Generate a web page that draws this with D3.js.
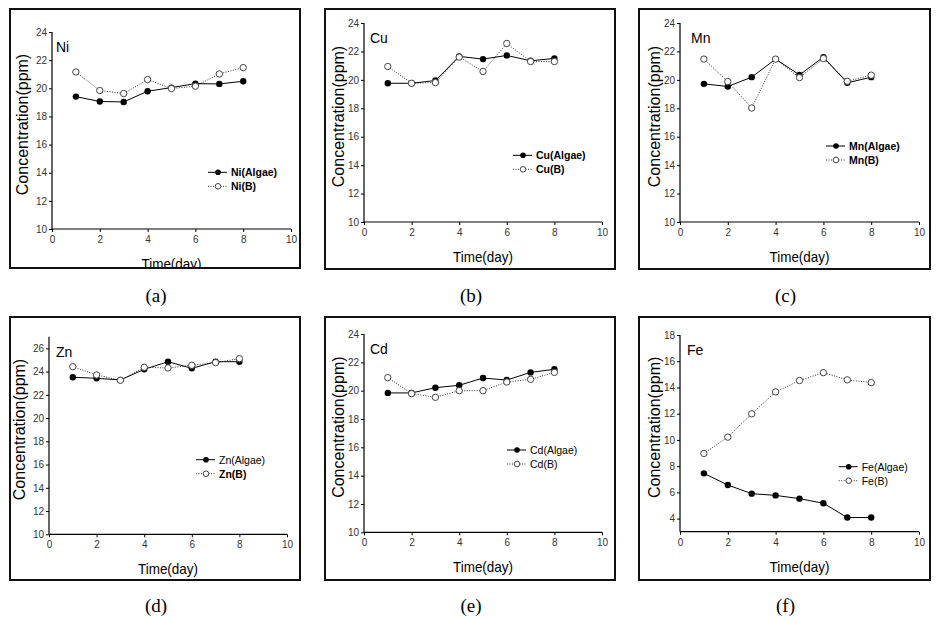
<!DOCTYPE html>
<html>
<head>
<meta charset="utf-8">
<script src="https://cdn.jsdelivr.net/npm/d3@7"></script>
<style>
  body { margin: 0; background: #fff; }
  svg { display: block; }
</style>
</head>
<body>
<svg id="chart" width="948" height="620"></svg>
<script>
// ---------- DATA ----------
const days = [1, 2, 3, 4, 5, 6, 7, 8];
const xTickValues = [0, 2, 4, 6, 8, 10];
const ticks10to24 = [10, 12, 14, 16, 18, 20, 22, 24];
const ticksZn = [10, 12, 14, 16, 18, 20, 22, 24, 26];
const ticksFe = [4, 6, 8, 10, 12, 14, 16, 18];

const elements = ["Ni", "Cu", "Mn", "Zn", "Cd", "Fe"];
const captions = ["(a)", "(b)", "(c)", "(d)", "(e)", "(f)"];

const niAlgae = [19.41, 19.06, 19.03, 19.79, 20.05, 20.33, 20.31, 20.50];
const niB     = [21.16, 19.84, 19.63, 20.62, 19.98, 20.15, 21.02, 21.47];
const cuAlgae = [19.76, 19.76, 19.95, 21.65, 21.46, 21.72, 21.34, 21.51];
const cuB     = [20.94, 19.76, 19.81, 21.60, 20.59, 22.56, 21.29, 21.29];
const mnAlgae = [19.72, 19.53, 20.19, 21.46, 20.35, 21.60, 19.79, 20.19];
const mnB     = [21.46, 19.88, 18.02, 21.46, 20.16, 21.50, 19.90, 20.33];
const znAlgae = [23.51, 23.42, 23.28, 24.19, 24.85, 24.28, 24.85, 24.85];
const znB     = [24.42, 23.71, 23.25, 24.37, 24.31, 24.54, 24.77, 25.11];
const cdAlgae = [19.84, 19.84, 20.21, 20.38, 20.89, 20.75, 21.29, 21.51];
const cdB     = [20.92, 19.79, 19.53, 20.00, 20.00, 20.61, 20.80, 21.29];
const feAlgae = [7.45, 6.56, 5.90, 5.77, 5.52, 5.17, 4.08, 4.08];
const feB     = [8.97, 10.21, 11.99, 13.66, 14.53, 15.13, 14.58, 14.37];

const algaeSeries = [niAlgae, cuAlgae, mnAlgae, znAlgae, cdAlgae, feAlgae];
const bSeries = [niB, cuB, mnB, znB, cdB, feB];
const yDomains = [[10, 24], [10, 24], [10, 24], [10, 27], [10, 24], [3, 18]];
const yTickSets = [ticks10to24, ticks10to24, ticks10to24, ticksZn, ticks10to24, ticksFe];

// ---------- LAYOUT ----------
const layout = [
  { box: [10, 9, 300, 268],  px: [52, 291],  py: [229, 32],    lab: 4,  leg: [208, 172.3], legBold: [true, true],  capY: 302 },
  { box: [325, 9, 615, 269], px: [364, 602], py: [222, 23],    lab: 6,  leg: [513, 155.3], legBold: [true, true],  capY: 302 },
  { box: [639, 9, 930, 269], px: [680, 919], py: [222, 23],    lab: 11, leg: [826, 146],   legBold: [true, true],  capY: 302 },
  { box: [10, 317, 300, 580],  px: [49, 287],  py: [534.3, 336.7], lab: 7, leg: [196, 459.7], legBold: [false, true], capY: 612 },
  { box: [325, 317, 615, 580], px: [364, 602], py: [532.3, 334], lab: 6, leg: [507, 450],   legBold: [false, false], capY: 612 },
  { box: [639, 317, 930, 580], px: [680, 919], py: [531.7, 335], lab: 7, leg: [838.7, 466.7], legBold: [false, false], capY: 612 }
];

const svg = d3.select("#chart");
const defs = svg.append("defs");

layout.forEach((L, i) => {
  const [bx0, by0, bx1, by1] = L.box;
  const clipId = "clip" + i;
  defs.append("clipPath").attr("id", clipId)
    .append("rect").attr("x", bx0).attr("y", by0).attr("width", bx1 - bx0).attr("height", by1 - by0);

  const g = svg.append("g").attr("clip-path", `url(#${clipId})`);

  const x = d3.scaleLinear().domain([0, 10]).range(L.px);
  const y = d3.scaleLinear().domain(yDomains[i]).range(L.py);

  // axes
  const xAxis = d3.axisBottom(x).tickValues(xTickValues).tickSize(3).tickPadding(4).tickFormat(d3.format("d"));
  const yAxis = d3.axisLeft(y).tickValues(yTickSets[i]).tickSize(3).tickPadding(2).tickFormat(d3.format("d"));

  const gx = g.append("g").attr("transform", `translate(0,${L.py[0]})`).call(xAxis);
  const gy = g.append("g").attr("transform", `translate(${L.px[0]},0)`).call(yAxis);
  // extend y domain line to top of scale
  [gx, gy].forEach(a => {
    a.selectAll("path.domain").attr("stroke", "#000").attr("stroke-width", 1.2);
    a.selectAll(".tick line").attr("stroke", "#000");
    a.selectAll("text").attr("fill", "#333").attr("font-family", "Liberation Sans, Arial, sans-serif").attr("font-size", 10);
  });
  gy.select("path.domain").attr("d", `M0,${L.py[0]}V${L.py[1]}`);
  gx.select("path.domain").attr("d", `M${L.px[0]},0H${L.px[1]}`);

  // element label
  g.append("text")
    .attr("x", L.px[0] + L.lab).attr("y", L.py[1] + 20)
    .attr("font-family", "Liberation Sans, Arial, sans-serif").attr("font-size", 14)
    .attr("fill", "#000").text(elements[i]);

  // axis titles
  const midY = (L.py[0] + L.py[1]) / 2 - 6;
  const yLabX = (i % 3 === 0) ? L.px[0] - 24 : L.px[0] - 20.5;
  g.append("text")
    .attr("transform", `translate(${yLabX},${midY}) rotate(-90)`)
    .attr("text-anchor", "middle")
    .attr("font-family", "Liberation Sans, Arial, sans-serif").attr("font-size", 16)
    .attr("fill", "#000").text("Concentration(ppm)");

  g.append("text")
    .attr("x", (L.px[0] + L.px[1]) / 2).attr("y", L.py[0] + 40)
    .attr("text-anchor", "middle")
    .attr("textLength", 60).attr("lengthAdjust", "spacingAndGlyphs")
    .attr("font-family", "Liberation Sans, Arial, sans-serif").attr("font-size", 15)
    .attr("fill", "#000").text("Time(day)");

  // lines
  const line = d3.line().x((d, k) => x(days[k])).y(d => y(d));
  g.append("path").datum(bSeries[i]).attr("d", line)
    .attr("fill", "none").attr("stroke", "#333").attr("stroke-width", 1).attr("stroke-dasharray", "1,1.5");
  g.append("path").datum(algaeSeries[i]).attr("d", line)
    .attr("fill", "none").attr("stroke", "#000").attr("stroke-width", 1);

  // markers
  g.selectAll(null).data(algaeSeries[i]).enter().append("circle")
    .attr("cx", (d, k) => x(days[k])).attr("cy", d => y(d)).attr("r", 3.2)
    .attr("fill", "#000");
  g.selectAll(null).data(bSeries[i]).enter().append("circle")
    .attr("cx", (d, k) => x(days[k])).attr("cy", d => y(d)).attr("r", 3.2)
    .attr("fill", "#fff").attr("stroke", "#444").attr("stroke-width", 1);

  // legend
  const [lx, ly] = L.leg;
  const names = [elements[i] + "(Algae)", elements[i] + "(B)"];
  names.forEach((nm, r) => {
    const yy = ly + r * 14;
    g.append("line").attr("x1", lx).attr("x2", lx + 19).attr("y1", yy).attr("y2", yy)
      .attr("stroke", r === 0 ? "#000" : "#333").attr("stroke-width", 1)
      .attr("stroke-dasharray", r === 0 ? null : "1,1.5");
    g.append("circle").attr("cx", lx + 10).attr("cy", yy).attr("r", 2.8)
      .attr("fill", r === 0 ? "#000" : "#fff").attr("stroke", r === 0 ? "none" : "#444");
    g.append("text").attr("x", lx + 23).attr("y", yy + 3.8)
      .attr("font-family", "Liberation Sans, Arial, sans-serif").attr("font-size", 10.5)
      .attr("font-weight", L.legBold[r] ? "bold" : "normal")
      .attr("fill", "#000").text(nm);
  });

  // border
  svg.append("rect").attr("x", bx0).attr("y", by0).attr("width", bx1 - bx0).attr("height", by1 - by0)
    .attr("fill", "none").attr("stroke", "#111").attr("stroke-width", 2);

  // caption
  svg.append("text").attr("x", (bx0 + bx1) / 2 + 1).attr("y", L.capY)
    .attr("text-anchor", "middle")
    .attr("font-family", "Liberation Serif, Times New Roman, serif").attr("font-size", 19)
    .attr("fill", "#000").text(captions[i]);
});
</script>
</body>
</html>
